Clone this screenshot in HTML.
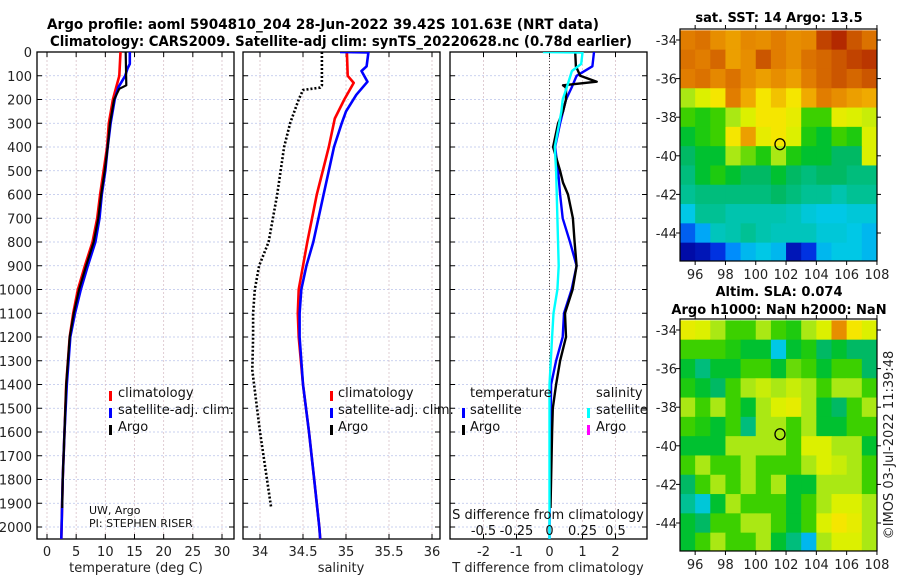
<!DOCTYPE html>
<html><head><meta charset="utf-8"><style>
body{margin:0;background:#fff;}
svg{display:block;font-family:"DejaVu Sans","Liberation Sans",sans-serif;}
</style></head><body>
<svg id="c" width="900" height="580" viewBox="0 0 900 580" xmlns="http://www.w3.org/2000/svg">
<defs>
<clipPath id="cp1"><rect x="37" y="52" width="197" height="487"/></clipPath>
<clipPath id="cp2"><rect x="243" y="52" width="197" height="487"/></clipPath>
<clipPath id="cp3"><rect x="450" y="52" width="197" height="487"/></clipPath>
<clipPath id="cm1"><rect x="680" y="29" width="197" height="232"/></clipPath>
<clipPath id="cm2"><rect x="680" y="319" width="197" height="232"/></clipPath>
</defs>
<text x="47" y="29" textLength="552" lengthAdjust="spacingAndGlyphs" font-size="14" font-weight="bold">Argo profile: aoml 5904810_204 28-Jun-2022 39.42S 101.63E (NRT data)</text>
<text x="50" y="46" textLength="582" lengthAdjust="spacingAndGlyphs" font-size="14" font-weight="bold">Climatology: CARS2009. Satellite-adj clim: synTS_20220628.nc (0.78d earlier)</text>
<text x="779" y="22" text-anchor="middle" font-size="13" font-weight="bold">sat. SST: 14 Argo: 13.5</text>
<text x="779" y="296" text-anchor="middle" font-size="13" font-weight="bold">Altim. SLA: 0.074</text>
<text x="779" y="314" text-anchor="middle" font-size="13" font-weight="bold">Argo h1000: NaN h2000: NaN</text>
<text transform="translate(893,445) rotate(-90)" text-anchor="middle" font-size="13" fill="#222">©IMOS 03-Jul-2022 11:39:48</text>
<g id="g"></g>
</svg>
<script>
// ---------- data ----------
var depthTicks=[0,100,200,300,400,500,600,700,800,900,1000,1100,1200,1300,1400,1500,1600,1700,1800,1900,2000];
var tempTicks=[0,5,10,15,20,25,30];
var salTicks=[34,34.5,35,35.5,36];
var tdiffTicks=[-2,-1,0,1,2];
var sdiffTicks=[-0.5,-0.25,0,0.25,0.5];
var sdiffLabels=["-0.5","-0.25","0","0.25","0.5"];

var climTDepth=[0,100,200,300,400,500,600,700,800,900,1000,1100,1200,1400,1600,1800,2000,2050];
var climT=[12.6,12.4,11.3,10.6,10.3,9.7,9.1,8.6,7.8,6.5,5.3,4.5,3.9,3.3,3.0,2.7,2.5,2.45];
var satTDepth=[0,50,70,100,150,200,300,400,500,600,700,800,900,1000,1100,1200,1400,1600,1800,2000,2050];
var satT=[14.2,14.2,13.8,13.4,12.2,11.6,10.9,10.4,10.0,9.4,9.0,8.3,7.0,5.8,4.8,4.0,3.4,3.0,2.7,2.5,2.45];
var argoTDepth=[0,140,155,200,300,400,500,600,700,800,900,1000,1100,1200,1400,1600,1800,1920];
var argoT=[13.5,13.6,12.4,11.5,10.8,10.4,9.9,9.3,8.8,8.0,6.7,5.5,4.6,3.9,3.3,3.0,2.7,2.6];

var climSDepth=[0,100,130,200,280,400,600,800,900,1000,1100,1200,1400,1600,1800,2000,2050];
var climS=[35.01,35.02,35.09,34.98,34.87,34.8,34.66,34.55,34.5,34.45,34.44,34.45,34.5,34.57,34.63,34.69,34.7];
var satSDepth=[0,2,60,80,125,180,250,300,400,500,600,800,900,1000,1100,1200,1400,1600,1800,2000,2050];
var satS=[34.93,35.26,35.24,35.18,35.25,35.12,35.0,34.95,34.86,34.8,34.74,34.62,34.54,34.48,34.46,34.46,34.5,34.57,34.63,34.69,34.7];
var argoSDepth=[0,140,150,160,200,300,400,600,800,900,1000,1100,1200,1340,1600,1920];
var argoS=[34.72,34.72,34.7,34.5,34.45,34.35,34.28,34.2,34.1,33.99,33.94,33.92,33.92,33.91,34.0,34.13];

var dTDepth=[0,60,100,150,200,300,400,500,600,700,800,900,1000,1100,1200,1300,1400,1600,1800,2000,2050];
var satTDiff=[1.35,1.3,0.82,0.67,0.5,0.32,0.17,0.26,0.32,0.4,0.62,0.82,0.67,0.44,0.4,0.2,0.05,0.03,0.02,0.0,0.0];
var argoTDiffDepth=[0,60,100,125,140,150,200,250,300,400,500,550,600,700,800,900,1000,1100,1200,1300,1400,1500,1600,1800,1920];
var argoTDiff=[0.78,0.8,0.93,1.43,0.41,0.5,0.5,0.41,0.26,0.11,0.32,0.41,0.56,0.71,0.76,0.82,0.7,0.47,0.5,0.32,0.2,0.1,0.08,0.05,0.03];
var satSDiffDepth=[0,2,50,80,150,200,250,400,500,700,900,1000,1100,1200,1400,1600,2000,2050];
var satSDiff=[-0.05,0.25,0.24,0.17,0.13,0.1,0.09,0.04,0.05,0.06,0.07,0.06,0.03,0.02,0.0,0.0,0.0,0.0];

var mapLons=[95.5,96.5,97.5,98.5,99.5,100.5,101.5,102.5,103.5,104.5,105.5,106.5,107.5];
var mapLats=[-34,-35,-36,-37,-38,-39,-40,-41,-42,-43,-44,-45];
var lonTicks=[96,98,100,102,104,106,108];
var latTicks=[-34,-36,-38,-40,-42,-44];
var argoPos=[101.6,-39.4];
var sstGrid=[
[0.78,0.8,0.75,0.72,0.76,0.75,0.78,0.75,0.76,0.88,0.92,0.85,0.8],
[0.8,0.78,0.82,0.72,0.75,0.85,0.78,0.75,0.8,0.82,0.85,0.88,0.9],
[0.78,0.8,0.76,0.8,0.75,0.72,0.75,0.72,0.78,0.82,0.85,0.82,0.85],
[0.55,0.6,0.65,0.78,0.7,0.65,0.68,0.65,0.7,0.78,0.75,0.72,0.7],
[0.5,0.48,0.5,0.55,0.6,0.65,0.65,0.62,0.5,0.5,0.62,0.6,0.58],
[0.45,0.48,0.5,0.65,0.72,0.62,0.65,0.6,0.48,0.45,0.5,0.48,0.6],
[0.42,0.45,0.45,0.55,0.52,0.48,0.55,0.48,0.45,0.45,0.42,0.42,0.6],
[0.4,0.45,0.48,0.45,0.42,0.42,0.45,0.42,0.4,0.42,0.42,0.4,0.4],
[0.38,0.4,0.4,0.4,0.4,0.4,0.42,0.4,0.38,0.38,0.36,0.38,0.38],
[0.32,0.38,0.38,0.36,0.36,0.36,0.36,0.35,0.33,0.32,0.32,0.33,0.33],
[0.2,0.28,0.35,0.36,0.38,0.36,0.35,0.35,0.35,0.33,0.33,0.32,0.3],
[0.08,0.1,0.15,0.25,0.3,0.32,0.3,0.1,0.15,0.3,0.32,0.32,0.3]];
var slaGrid=[
[0.62,0.6,0.55,0.5,0.5,0.55,0.5,0.48,0.55,0.6,0.75,0.65,0.6],
[0.5,0.5,0.5,0.48,0.45,0.45,0.32,0.45,0.48,0.42,0.45,0.42,0.42],
[0.45,0.4,0.45,0.45,0.5,0.5,0.45,0.52,0.5,0.45,0.5,0.5,0.42],
[0.48,0.45,0.42,0.5,0.55,0.58,0.55,0.58,0.55,0.5,0.55,0.55,0.5],
[0.55,0.5,0.55,0.5,0.45,0.55,0.6,0.62,0.55,0.45,0.42,0.5,0.55],
[0.5,0.48,0.45,0.5,0.4,0.55,0.55,0.5,0.55,0.45,0.45,0.5,0.5],
[0.45,0.45,0.45,0.55,0.55,0.55,0.55,0.5,0.6,0.6,0.55,0.55,0.45],
[0.5,0.55,0.5,0.5,0.55,0.5,0.5,0.5,0.55,0.6,0.58,0.55,0.5],
[0.42,0.5,0.55,0.5,0.55,0.5,0.55,0.45,0.45,0.55,0.55,0.55,0.5],
[0.38,0.33,0.45,0.55,0.5,0.5,0.5,0.45,0.5,0.55,0.6,0.6,0.55],
[0.45,0.42,0.5,0.5,0.55,0.55,0.5,0.45,0.5,0.6,0.65,0.62,0.55],
[0.45,0.5,0.55,0.5,0.5,0.55,0.45,0.4,0.3,0.55,0.6,0.6,0.55]];

// ---------- helpers ----------
var NS="http://www.w3.org/2000/svg";
var G=document.getElementById('g');
function mk(tag,at,parent){var e=document.createElementNS(NS,tag);for(var k in at)e.setAttribute(k,at[k]);(parent||G).appendChild(e);return e;}
function yD(d){return 52+d*0.2375;}
function x1(t){return 47+t*5.833;}
function x2(s){return 260+(s-34)*86;}
function x3(t){return 549.5+t*33;}
function xs3(s){return 549.5+s*132;}
var CS=[[0,[0,0,120]],[0.06,[0,0,150]],[0.15,[0,50,225]],[0.26,[0,150,255]],[0.32,[0,200,230]],[0.37,[0,195,160]],[0.42,[0,185,100]],[0.46,[0,195,30]],[0.5,[60,208,0]],[0.55,[170,232,20]],[0.6,[220,240,0]],[0.65,[245,230,0]],[0.7,[240,170,0]],[0.78,[225,125,0]],[0.86,[200,80,0]],[0.93,[175,35,0]],[1,[150,0,0]]];
function jet(v){v=Math.max(0,Math.min(1,v));
 for(var i=1;i<CS.length;i++){if(v<=CS[i][0]){var a=CS[i-1],b=CS[i],f=(v-a[0])/(b[0]-a[0]);
  return 'rgb('+[0,1,2].map(function(k){return Math.round(a[1][k]+f*(b[1][k]-a[1][k]));}).join(',')+')';}}
 return 'rgb(150,0,0)';}

function panel(left,name,xt,xf,xlabels){
 var gr=mk('g',{});
 
 
 depthTicks.forEach(function(d){
  var l=mk('line',{x1:left,x2:left+197,y1:yD(d),y2:yD(d),stroke:'#b9c2ea','stroke-width':0.8,'stroke-dasharray':'2,2'},gr);
  
  
  mk('line',{x1:left,x2:left+5,y1:yD(d),y2:yD(d),stroke:'#000'},gr);
  mk('line',{x1:left+192,x2:left+197,y1:yD(d),y2:yD(d),stroke:'#000'},gr);
 });
 xt.forEach(function(v,i){
  var l=mk('line',{x1:xf(v),x2:xf(v),y1:52,y2:539,stroke:'#d8c0c8','stroke-width':0.8,'stroke-dasharray':'2,2'},gr);
  
  
  mk('line',{x1:xf(v),x2:xf(v),y1:52,y2:57,stroke:'#000'},gr);
  mk('line',{x1:xf(v),x2:xf(v),y1:534,y2:539,stroke:'#000'},gr);
  if(xlabels){var t=mk('text',{x:xf(v),y:556,'text-anchor':'middle','font-size':13,fill:'#222'},gr);t.textContent=xlabels[i];
   
   }
 });
 var r=mk('rect',{x:left,y:52,width:197,height:487,fill:'none',stroke:'#000','stroke-width':1.3},gr);
 
 
 return gr;
}
function line(xs,ds,xf,clip,color,w,name,dash){
 var p='';for(var i=0;i<xs.length;i++){p+=(i?'L':'M')+xf(xs[i]).toFixed(1)+' '+yD(ds[i]).toFixed(1);}
 var at={d:p,fill:'none',stroke:color,'stroke-width':w,'clip-path':'url(#'+clip+')','stroke-linejoin':'round'};
 if(dash)at['stroke-dasharray']=dash;
 var e=mk('path',at);
 
 
 return e;
}
function txt(x,y,s,size,name,anchor,fill){var t=mk('text',{x:x,y:y,'font-size':size,'text-anchor':anchor||'start',fill:fill||'#111'});t.textContent=s;
 
 
 return t;}
function mark(x,y,c,name){var r=mk('rect',{x:x,y:y-11,width:3,height:10,fill:c});
 
 }

// ---------- panels ----------
panel(37,'temperature-panel',tempTicks,x1,tempTicks.map(String));
panel(243,'salinity-panel',salTicks,x2,salTicks.map(String));
panel(450,'difference-panel',tdiffTicks,x3,tdiffTicks.map(String));
depthTicks.forEach(function(d){txt(32,yD(d)+5,String(d),13,'y-tick-label','end','#222');});

line(climT,climTDepth,x1,'cp1','#f00',2.6,'temp-climatology-line');
line(satT,satTDepth,x1,'cp1','#00f',2.6,'temp-satellite-line');
line(argoT,argoTDepth,x1,'cp1','#000',2.2,'temp-argo-line');
line(climS,climSDepth,x2,'cp2','#f00',2.6,'sal-climatology-line');
line(satS,satSDepth,x2,'cp2','#00f',2.6,'sal-satellite-line');
line(argoS,argoSDepth,x2,'cp2','#000',2.6,'sal-argo-line','2,2');
var z=mk('line',{x1:x3(0),x2:x3(0),y1:52,y2:539,stroke:'#444','stroke-width':1,'stroke-dasharray':'1,2'});


line(satTDiff,dTDepth,x3,'cp3','#00f',2.4,'tdiff-satellite-line');
line(argoTDiff,argoTDiffDepth,x3,'cp3','#000',2.4,'tdiff-argo-line');
line(satSDiff,satSDiffDepth,xs3,'cp3','#0ff',2.4,'sdiff-satellite-line');

// legends
mark(109,402,'#f00','legend-climatology-marker');txt(118,397,'climatology',13,'legend-climatology');
mark(109,419,'#00f','legend-satellite-marker');txt(118,414,'satellite-adj. clim.',13,'legend-satellite');
mark(109,436,'#000','legend-argo-marker');txt(118,431,'Argo',13,'legend-argo');
mark(330,402,'#f00','legend2-climatology-marker');txt(338,397,'climatology',13,'legend2-climatology');
mark(330,419,'#00f','legend2-satellite-marker');txt(338,414,'satellite-adj. clim.',13,'legend2-satellite');
mark(330,436,'#000','legend2-argo-marker');txt(338,431,'Argo',13,'legend2-argo');
txt(470,397,'temperature',13,'legend-temperature-header');
mark(462,419,'#00f','legend-tsat-marker');txt(470,414,'satellite',13,'legend-tsat');
mark(462,436,'#000','legend-targo-marker');txt(470,431,'Argo',13,'legend-targo');
txt(596,397,'salinity',13,'legend-salinity-header');
mark(587,419,'#0ff','legend-ssat-marker');txt(596,414,'satellite',13,'legend-ssat');
mark(587,436,'#f0f','legend-sargo-marker');txt(596,431,'Argo',13,'legend-sargo');
txt(89,514,'UW, Argo',11,'float-owner');
txt(89,527,'PI: STEPHEN RISER',11,'float-pi');
txt(548,519,'S difference from climatology',13,'s-diff-axis-title','middle');
sdiffTicks.forEach(function(s,i){txt(xs3(s),535,sdiffLabels[i],13,'s-tick-label','middle');});
txt(136,572,'temperature (deg C)',13,'x-axis-title-temperature','middle','#222');
txt(341,572,'salinity',13,'x-axis-title-salinity','middle','#222');
txt(548,572,'T difference from climatology',13,'x-axis-title-tdiff','middle','#222');

// ---------- maps ----------
function map(top,grid,clip,name){
 function mx(lon){return 680+(lon-95)*15.15;}
 function my(lat){return top+11+(-34-lat)*19.3;}
 var gr=mk('g',{'clip-path':'url(#'+clip+')'});
 
 
 for(var r=0;r<mapLats.length;r++)for(var c=0;c<mapLons.length;c++){
  var cell=mk('rect',{x:mx(mapLons[c]-0.5),y:my(mapLats[r]+0.5),width:15.6,height:19.8,fill:jet(grid[r][c])},gr);
  
  
 }
 var m=mk('ellipse',{cx:mx(argoPos[0]),cy:my(argoPos[1]),rx:5,ry:5.5,fill:'none',stroke:'#000','stroke-width':1.3});
 
 
 var fr=mk('rect',{x:680,y:top,width:197,height:232,fill:'none',stroke:'#000','stroke-width':1.2});
 
 
 lonTicks.forEach(function(l){mk('line',{x1:mx(l),x2:mx(l),y1:top+232,y2:top+236,stroke:'#000'});mk('line',{x1:mx(l),x2:mx(l),y1:top-4,y2:top,stroke:'#000'});
  txt(mx(l),top+250,String(l),13,'map-lon-label','middle','#222');});
 latTicks.forEach(function(l){mk('line',{x1:676,x2:680,y1:my(l),y2:my(l),stroke:'#000'});mk('line',{x1:877,x2:881,y1:my(l),y2:my(l),stroke:'#000'});
  txt(677,my(l)+5,String(l),13,'map-lat-label','end','#222');});
}
map(29,sstGrid,'cm1','sst-map');
map(319,slaGrid,'cm2','sla-map');
</script>
</body></html>
